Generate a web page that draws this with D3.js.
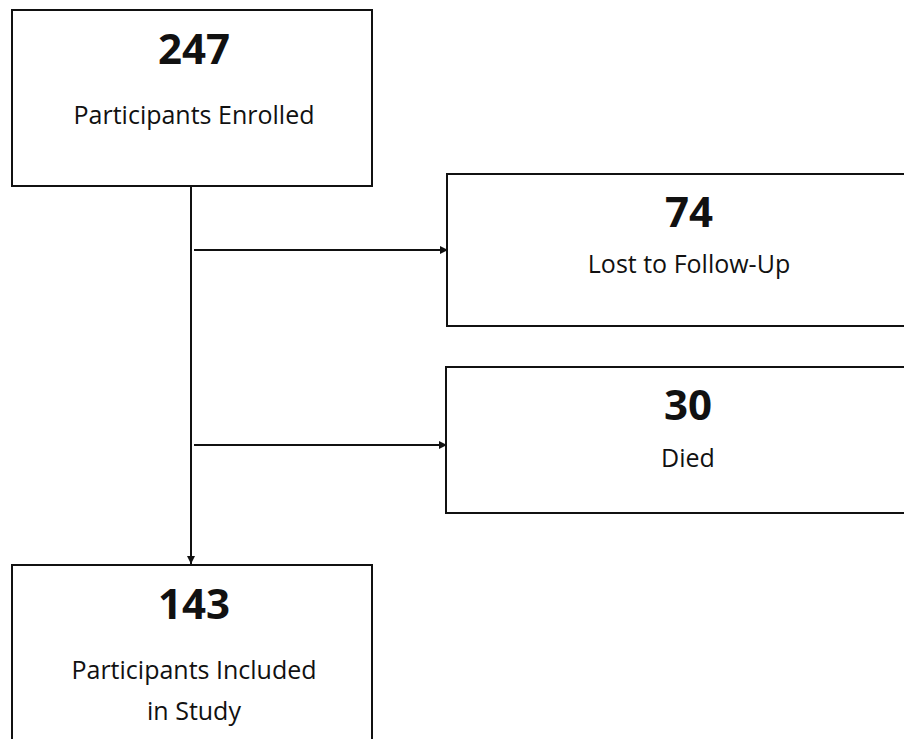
<!DOCTYPE html>
<html>
<head>
<meta charset="utf-8">
<script src="https://cdn.jsdelivr.net/npm/d3@7"></script>
<style>
  body { margin: 0; background: #fff; }
  text { font-family: "Open Sans", "Noto Sans", sans-serif; fill: #111; }
</style>
</head>
<body>
<div id="flow"></div>
<script>
// flow counts and their captions
var counts = [247, 74, 30, 143];
var labels = [
    ["Participants Enrolled"],
    ["Lost to Follow-Up"],
    ["Died"],
    ["Participants Included", "in Study"]
];

var width = 904;
var height = 739;

// box geometry and text baselines
var boxes = [
    { x: 12, y: 10, w: 360, h: 176, numY: 64, labY: [124] },
    { x: 447, y: 174, w: 480, h: 152, numY: 227, labY: [273] },
    { x: 446, y: 367, w: 480, h: 146, numY: 420, labY: [467] },
    { x: 12, y: 565, w: 360, h: 200, numY: 619, labY: [679, 720] }
];

var trunkX = 191;           // vertical line from first box
var branchY = [250, 445];   // side arrows

var svg = d3.select("#flow")
    .append("svg")
    .attr("width", width)
    .attr("height", height);

svg.append("defs").append("marker")
    .attr("id", "head")
    .attr("viewBox", "0 0 10 10")
    .attr("refX", 10)
    .attr("refY", 5)
    .attr("markerWidth", 4)
    .attr("markerHeight", 4)
    .attr("orient", "auto")
    .append("path")
    .attr("d", "M0,0L10,5L0,10Z")
    .attr("fill", "#111");

var nodes = boxes.map(function (b, i) {
    return { box: b, count: counts[i], label: labels[i] };
});

var g = svg.selectAll("g.node")
    .data(nodes)
    .enter()
    .append("g")
    .attr("class", "node");

g.append("rect")
    .attr("x", function (d) { return d.box.x; })
    .attr("y", function (d) { return d.box.y; })
    .attr("width", function (d) { return d.box.w; })
    .attr("height", function (d) { return d.box.h; })
    .attr("fill", "#fff")
    .attr("stroke", "#111")
    .attr("stroke-width", 2);

g.append("text")
    .attr("x", function (d) { return d.box.x + d.box.w / 2 + 2; })
    .attr("y", function (d) { return d.box.numY; })
    .attr("text-anchor", "middle")
    .attr("font-size", 42)
    .attr("font-weight", "bold")
    .text(function (d) { return d.count; });

g.each(function (d) {
    d3.select(this).selectAll("text.lab")
        .data(d.label)
        .enter()
        .append("text")
        .attr("class", "lab")
        .attr("x", d.box.x + d.box.w / 2 + 2)
        .attr("y", function (t, j) { return d.box.labY[j]; })
        .attr("text-anchor", "middle")
        .attr("font-size", 25)
        .text(function (t) { return t; });
});

// trunk
svg.append("line")
    .attr("x1", trunkX).attr("y1", boxes[0].y + boxes[0].h)
    .attr("x2", trunkX).attr("y2", boxes[3].y - 1)
    .attr("stroke", "#111")
    .attr("stroke-width", 2)
    .attr("marker-end", "url(#head)");

// side arrows
svg.selectAll("line.branch")
    .data(branchY)
    .enter()
    .append("line")
    .attr("class", "branch")
    .attr("x1", trunkX + 3)
    .attr("y1", function (d) { return d; })
    .attr("x2", function (d, i) { return boxes[i + 1].x + 1; })
    .attr("y2", function (d) { return d; })
    .attr("stroke", "#111")
    .attr("stroke-width", 2)
    .attr("marker-end", "url(#head)");
</script>
</body>
</html>
